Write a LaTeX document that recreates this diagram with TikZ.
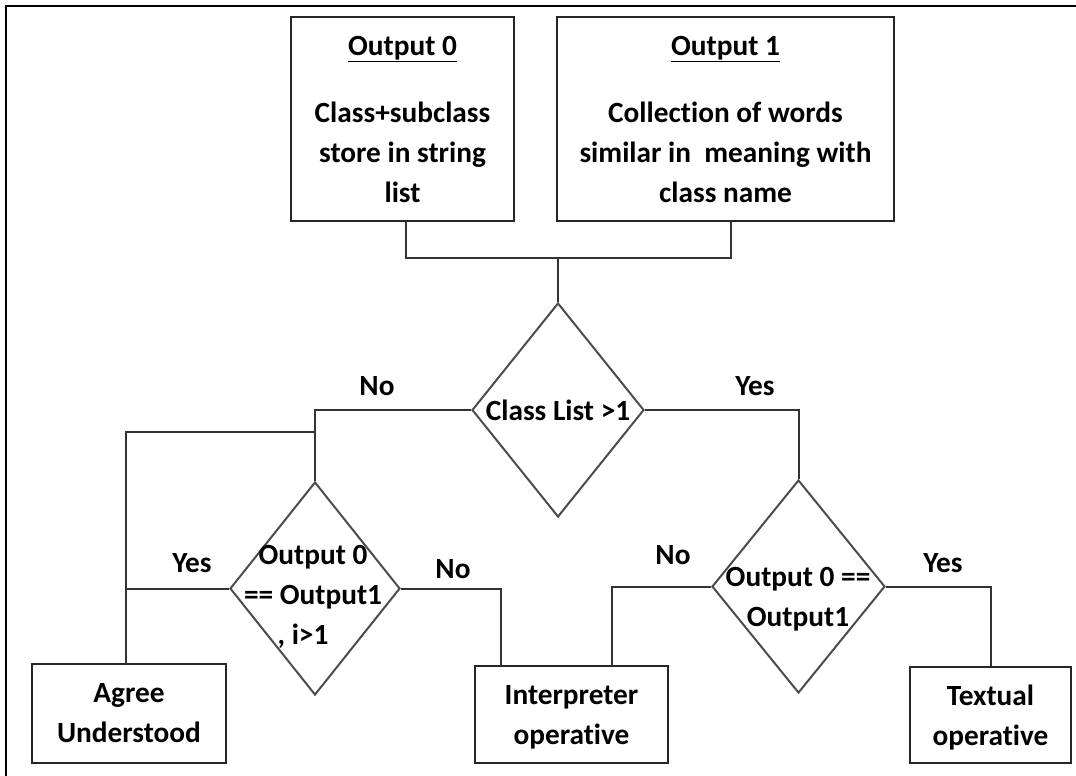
\documentclass[tikz,border=0pt]{standalone}
\usepackage{fontspec}
\setmainfont{Carlito}[Ligatures=NoCommon]
\usetikzlibrary{shapes.geometric}
\begin{document}
\begin{tikzpicture}[x=1pt,y=-1pt,
  every node/.style={font=\fontsize{29.3}{40}\selectfont\bfseries, text=black},
  box/.style={draw=black!85, line width=2.4pt, align=center, inner sep=0pt},
  decision/.style={diamond, draw=black!70, line width=2pt, inner sep=0pt},
  conn/.style={draw=black!80, line width=2pt},
  lbl/.style={inner sep=0pt}]
  \useasboundingbox (0,0) rectangle (1076,776);
  % page frame
  \draw[line width=2pt] (6,776) -- (6,6) -- (1076,6);

  % process boxes
  \node[box, minimum width=223pt, minimum height=204pt] (o0) at (402.5,119)
    {\underline{Output 0}\\[27pt] Class+subclass\\ store in string\\ list};
  \node[box, minimum width=337pt, minimum height=204pt] (o1) at (725.5,119)
    {\underline{Output 1}\\[27pt] Collection of words\\ similar in\ \ meaning with\\ class name};
  \node[box, minimum width=194pt, minimum height=99pt] (ag) at (129,713.5)
    {Agree\\ Understood};
  \node[box, minimum width=193pt, minimum height=97pt] (ip) at (571.5,714.5)
    {\rule{0pt}{25pt}Interpreter\\ operative};
  \node[box, minimum width=161pt, minimum height=96pt] (tx) at (990.5,715)
    {\rule{0pt}{25pt}Textual\\ operative};

  % decisions
  \node[decision, minimum width=172pt, minimum height=214pt] (d1) at (558,410) {};
  \node[lbl] at (d1) {Class List >1};
  \node[decision, minimum width=170pt, minimum height=213pt] (d2) at (315,588.5) {};
  \node[lbl, align=center] at (313,597) {Output 0\\ == Output1\\ , i>1\hspace*{20pt}};
  \node[decision, minimum width=173pt, minimum height=213pt] (d3) at (798.5,586.5) {};
  \node[lbl, align=center] at (798,599) {Output 0 ==\\ Output1};

  % junctions and connector ends
  \coordinate (j) at (558,258);
  \coordinate (o0s) at (406,221);
  \coordinate (o1s) at (731,221);
  \coordinate (b1) at (315,432);
  \coordinate (ax) at (126,664);
  \coordinate (ipa) at (501,666);
  \coordinate (ipb) at (612,666);

  % connectors
  \draw[conn] (o0s) |- (j) -| (o1s);
  \draw[conn] (j) -- (d1.north);
  \draw[conn] (d1.west) -| (d2.north);
  \draw[conn] (b1) -| (ax);
  \draw[conn] (d2.west) -- (d2.west -| ax);
  \draw[conn] (d2.east) -| (ipa);
  \draw[conn] (d1.east) -| (d3.north);
  \draw[conn] (d3.west) -| (ipb);
  \draw[conn] (d3.east) -| (tx.north);

  % branch labels
  \node[lbl] at (377,386) {No};
  \node[lbl] at (755,386) {Yes};
  \node[lbl] at (192,563) {Yes};
  \node[lbl] at (453,569) {No};
  \node[lbl] at (673,555) {No};
  \node[lbl] at (943,563) {Yes};
\end{tikzpicture}
\end{document}
